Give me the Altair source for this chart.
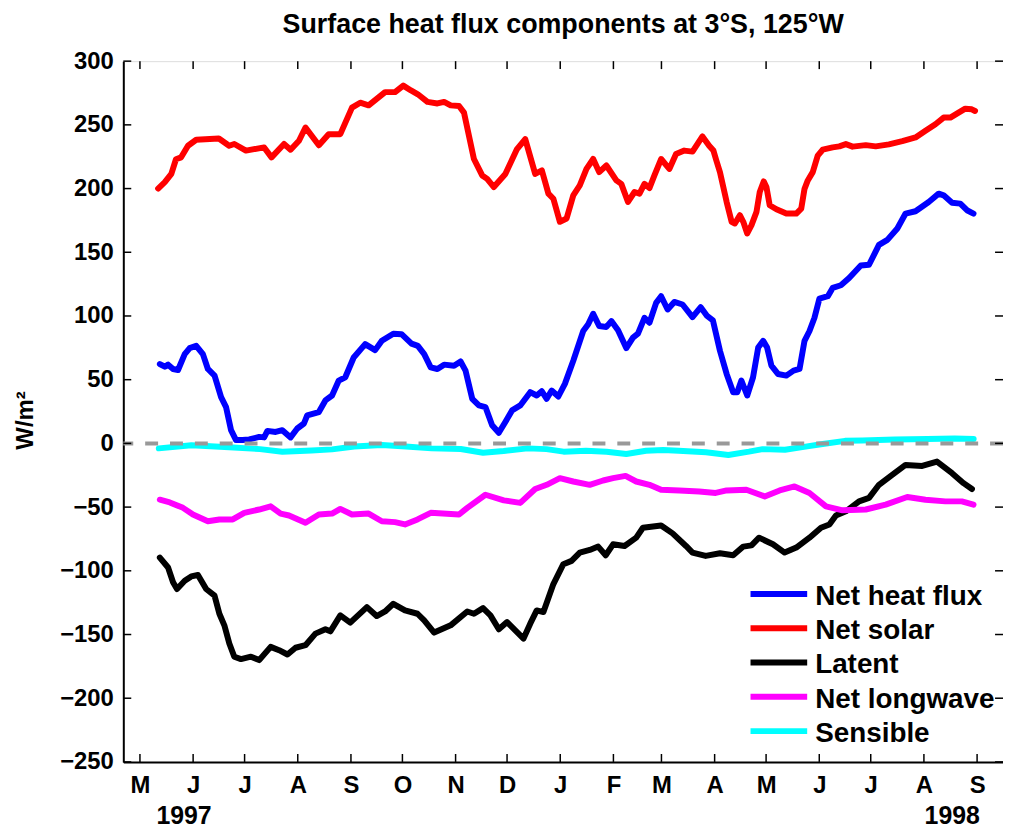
import altair as alt
import pandas as pd

# ---------------- data ----------------
series_names = ["Net heat flux", "Net solar", "Latent", "Net longwave", "Sensible"]
series_colors = ["#0000ff", "#ff0000", "#000000", "#ff00ff", "#00ffff"]
base_date = "1997-05-01"   # day offsets below are counted from this date

net_heat_days = [11.6, 14.5, 16.4, 19.3, 22.2, 26.1, 29, 32.8, 36.7, 39.6, 43.5, 47.3, 50.2, 53.1, 56,
                 59.8, 63.7, 69.5, 72.4, 74.3, 79.1, 83, 87.8, 91.7, 95.6, 97.5, 104.3, 108.1, 112,
                 115.9, 119.7, 124.6, 131.3, 137.1, 141, 147.7, 152.5, 158.3, 162, 165.7, 169.5,
                 173.4, 177.3, 183.1, 186.9, 189.8, 193.7, 197.6, 201.4, 205.3, 209.2, 213, 216.9,
                 221.7, 227.5, 231.3, 234.2, 237.1, 240, 243.9, 247.7, 252.6, 258.4, 261.3, 264.2,
                 267.7, 271.9, 274.8, 278.7, 283.5, 287.4, 290.3, 294.1, 297, 300.9, 303.8, 307.6,
                 311.5, 316.3, 322.1, 326.9, 330.6, 334, 338.1, 342, 345.8, 348.2, 350.6, 354,
                 357.4, 360.4, 363.3, 365.6, 368.1, 371.9, 376.8, 381, 384.5, 387.4, 390.3, 393.2,
                 396.1, 401, 403.8, 408.6, 413.4, 420.2, 425, 430.8, 435.7, 441.5, 446.3, 452.1,
                 459.8, 465.6, 468.5, 473.4, 478.2, 482.1, 485.9]
net_heat_vals = [62.3, 60.2, 61.8, 58.4, 57.6, 70.1, 74.8, 76.6, 70.1, 58.4, 53.2, 36.3, 28.5, 10.4, 2.6,
                 2.6, 3.1, 5.1, 4.7, 9.8, 9.0, 10.4, 4.7, 11.7, 15.6, 22, 24.6, 33.7, 37.6,
                 49.3, 51.9, 67.4, 77.9, 73.2, 80.5, 86.1, 85.7, 78.3, 76.5, 70.1, 59.7,
                 58.4, 61.8, 61, 64.3, 57.1, 35, 29.8, 28.5, 14.3, 8.3, 16.8, 25.9,
                 29.8, 40.2, 37.6, 41, 35, 41.5, 36.8, 46.7, 64.9, 88.2, 93.5, 101.7,
                 92.1, 91.4, 96, 88.8, 74.8, 83, 86.1, 98.6, 94.7, 110.3, 115.5, 105.1,
                 111, 109, 99.1, 106.9, 100, 96.5, 72.7, 54.5, 40.2, 40.2, 49.3, 37.6,
                 51.9, 75.2, 80.5, 75.2, 61, 54.5, 53.2, 57.1, 58.4, 80.5, 88.2, 98.6,
                 113.7, 115.5, 122, 124.1, 129.8, 139.6, 140.2, 155.8, 159.7, 168.7, 180.4, 182.2,
                 189.5, 196, 194.7, 188.9, 188.2, 183, 180.4]

net_solar_days = [10.6, 14.5, 18.3, 21, 24, 28, 32.8, 46, 52, 55, 61.8, 72.4, 76.7, 84, 87.8, 92.7,
                  96.5, 104.3, 110, 116.8, 123.6, 128.4, 133.3, 142.9, 148.7, 153.5, 158, 162,
                  167.6, 173.4, 177.3, 181.1, 186, 188.9, 194.7, 199.5, 202.4, 206.3, 213, 219.8,
                  224.6, 230.4, 234.3, 238.1, 241, 244.8, 248.7, 252.6, 256.4, 260.3, 264.2, 267.7,
                  271.9, 277.7, 280.6, 284.5, 288.3, 291.2, 294.1, 297, 299.9, 303.8, 308.6, 312.5,
                  317.3, 322.1, 327.9, 331.8, 334.3, 336, 338.1, 342, 344.9, 346.8, 349.7, 351.7,
                  354, 356.5, 359.4, 361.3, 363.6, 365.2, 367.1, 371, 376.8, 382.6, 385.5, 387.4,
                  389.3, 392.2, 395.1, 398, 403.8, 407.7, 411.5, 415.4, 423.1, 428.9, 436.6, 444.4,
                  452.1, 457.9, 463.7, 468.5, 472.4, 477.2, 481.1, 484.9, 486.8]
net_solar_vals = [200, 205, 211.5, 223, 224.5, 233.6, 238.3, 239.3, 233.6, 235, 229.8, 232.3, 224.5, 235,
                  230.5, 237.5, 247.9, 234, 242.7, 242.7, 263.5, 267.4, 265.3, 275.7, 275.7, 280.8,
                  277, 274, 268, 266.8, 268, 265.3, 264.8, 259.6, 223.2, 210.3, 207.6, 201.2, 211.5,
                  231, 238.8, 211.5, 214.2, 196, 192, 173.9, 176.5, 194.7, 202.5, 215.4, 223.2, 212.9,
                  218.1, 206.4, 203.7, 189.5, 197.3, 196, 203.7, 200.4, 210.3, 223.2, 215.4, 227.1,
                  229.8, 229, 240.9, 233.6, 229.8, 222, 212.9, 189.5, 173.9, 172.6, 179.1, 173.9,
                  164.8, 171.3, 181.7, 197.3, 205.6, 201.2, 186.9, 183.8, 180.4, 180.4, 184.3, 199.8,
                  206.4, 212.9, 225.9, 230.5, 232.3, 233.1, 234.9, 232.9, 234.1, 233.1, 234.7, 237.2,
                  240.1, 245.3, 250.5, 255.7, 255.7, 259.6, 262.7, 262.2, 260.9]

latent_days = [11.6, 16.4, 19.3, 21.6, 26.1, 29.9, 33.8, 38.6, 43.5, 46.3, 49.2, 52.1, 55, 58.9, 64.7,
               69.5, 76.2, 81.1, 86, 90.7, 96.5, 102.3, 108.1, 111, 116.8, 122.6, 132.3, 138, 142.9,
               147.7, 154.5, 161.8, 165.7, 171.5, 181.1, 190.8, 194.7, 200, 204.3, 209.2, 214,
               223.6, 227.5, 231.3, 235.2, 241, 246.8, 251.6, 256.4, 262.2, 267.1, 271.5, 275.8,
               282.5, 289.3, 293.2, 303.8, 310.5, 318.3, 322.1, 329.8, 338.1, 345.8, 351.7, 356.5,
               360.9, 369, 375.8, 382.6, 390.3, 397, 401.9, 405.7, 411.5, 419.2, 425, 430.8, 438.5,
               446.3, 456, 464.6, 473.4, 480.1, 485]
latent_vals = [-89.6, -97.4, -109, -114.3, -107.8, -104.4, -103.3, -114.3, -119.5, -133.7, -142.8, -157.1,
               -167.4, -169.3, -167.4, -170.1, -159.7, -162.3, -165.7, -160.4, -158.4, -149.3, -145.9,
               -147.5, -135, -140.7, -128.5, -135.5, -131.9, -125.9, -131.1, -133.7, -138.9, -148.5,
               -142.8, -131.9, -133.7, -129.3, -135, -145.9, -140.2, -153.2, -141.5, -131.1, -132.4,
               -110.4, -94.8, -92.2, -85.7, -83.6, -81, -87.8, -79.2, -80.5, -74, -66.2, -64.4, -70.6,
               -80.5, -85.7, -88.3, -86.2, -87.8, -81, -80, -74, -79.2, -85.7, -81.8, -74, -66.2,
               -63.6, -56.6, -53.3, -45.5, -42.8, -32.5, -24.7, -16.9, -17.7, -14.3, -23.4, -31.2,
               -35.8]

longwave_days = [11.6, 17.4, 25.1, 30.9, 39.6, 46.3, 54.1, 60.8, 69.5, 76.2, 82, 86.9, 96.5, 104.3, 112,
                 116.8, 123.6, 133.3, 141, 148.7, 154.5, 161.8, 169.5, 186, 190.8, 201.4, 212.1,
                 221.7, 230.4, 237.1, 244.8, 252.6, 262.2, 270, 275.8, 283.1, 289.3, 297, 303.8,
                 314.4, 326, 335.6, 342, 353.5, 364.2, 372.9, 381.6, 390.3, 399.9, 409.6, 423.1,
                 434.7, 447.3, 457.9, 469.5, 479.1, 485.9]
longwave_vals = [-44.2, -46.3, -50.6, -55.8, -61.1, -59.7, -59.7, -54.5, -51.9, -49.4, -55.1, -56.6, -62.3,
                 -55.8, -55.1, -51.4, -55.8, -55.1, -61.1, -61.8, -63.6, -59.7, -54.5, -55.8, -50.6,
                 -40.3, -44.7, -46.7, -35.8, -32.5, -27.3, -29.9, -32.5, -29.1, -27.3, -25.5, -29.9,
                 -32.5, -36.4, -36.9, -37.7, -38.9, -36.9, -36.4, -41.6, -36.9, -33.8, -38.9, -49.4,
                 -52.5, -51.9, -48.1, -42.1, -44.2, -45.5, -45.5, -48.1]

sensible_days = [11, 30, 52, 70, 83, 100, 112, 125, 141, 155, 170, 187, 200, 212, 226, 237, 247, 260,
                 272, 283.5, 295, 305, 314, 330, 343, 355, 363, 376, 388, 398, 411, 421, 440, 459,
                 475, 486]
sensible_vals = [-3.9, -1.5, -3.0, -4.5, -6.5, -5.5, -4.7, -2.5, -1.3, -2.5, -3.9, -4.4, -7.3, -6, -3.9,
                 -4.5, -6.5, -5.8, -6.5, -8.3, -5.8, -5.2, -5.8, -7.0, -9.1, -6.5, -4.5, -5.0, -2.5,
                 -0.5, 2.0, 2.2, 3.0, 3.5, 3.8, 3.5]

y_ticks = [-250, -200, -150, -100, -50, 0, 50, 100, 150, 200, 250, 300]
year_labels = ["1997", "1998"]
year_label_days = [25.7, 473.5]

# ---------------- build tables ----------------
DAY_MS = 86400000
base_ms = pd.Timestamp(base_date).value // 10**6


def to_ms(day):
    return base_ms + day * DAY_MS


all_days = [net_heat_days, net_solar_days, latent_days, longwave_days, sensible_days]
all_vals = [net_heat_vals, net_solar_vals, latent_vals, longwave_vals, sensible_vals]
rows = []
for k, (name, dd, vv) in enumerate(zip(series_names, all_days, all_vals)):
    for d, v in zip(dd, vv):
        rows.append({"series": name, "order": k, "t": to_ms(d), "v": v})
df = pd.DataFrame(rows)

month_ticks = [pd.Timestamp(x).value // 10**6
               for x in pd.date_range("1997-05-01", "1998-09-01", freq="MS")]
xtick_df = pd.DataFrame({"t": month_ticks})
ytick_df = pd.DataFrame({"v": y_ticks})
zero_df = pd.DataFrame({"v": [0]})
year_df = pd.DataFrame({"t": [to_ms(d) for d in year_label_days], "label": year_labels})
legend_df = pd.DataFrame({"series": series_names})

# ---------------- scales / axes ----------------
W, H = 885, 705
FONT = "Liberation Sans"
xscale = alt.Scale(type="utc", domain=[to_ms(-9.7), to_ms(503.1)], nice=False)
yscale = alt.Scale(domain=[-250, 300], nice=False, zero=False)
xaxis = alt.Axis(values=month_ticks, ticks=False, grid=False, title=None,
                 labelExpr="substring(utcFormat(datum.value, '%b'), 0, 1)",
                 labelFont=FONT, labelFontSize=24, labelFontWeight="bold", labelColor="black",
                 labelPadding=12, labelOverlap=False, labelFlush=False, labelBound=False,
                 domainColor="black", domainWidth=2)
yaxis = alt.Axis(values=y_ticks, ticks=False, grid=False, title="W/m²", format="d",
                 titleFont=FONT, titleFontSize=24, titleFontWeight="bold", titleColor="black",
                 titleX=-86, titleY=361,
                 labelFont=FONT, labelFontSize=24, labelFontWeight="bold", labelColor="black",
                 labelPadding=10, labelOverlap=False, labelFlush=False, labelBound=False,
                 domainColor="black", domainWidth=2)


def X(field):
    return alt.X(f"{field}:T", scale=xscale, axis=xaxis)


def Y(field):
    return alt.Y(f"{field}:Q", scale=yscale, axis=yaxis)


color_scale = alt.Scale(domain=series_names, range=series_colors)

lines = alt.Chart(df).mark_line(strokeWidth=6, strokeCap="round", strokeJoin="round").encode(
    x=X("t"), y=Y("v"),
    color=alt.Color("series:N", scale=color_scale, legend=None),
    detail="order:O",
)

zero = alt.Chart(zero_df).mark_rule(color="#999999", strokeWidth=4, strokeDash=[13, 12]).encode(y=Y("v"))

tick_kw = dict(color="black", strokeWidth=1.5)
xt_bottom = alt.Chart(xtick_df).mark_rule(**tick_kw).encode(x=X("t"), y=alt.value(H), y2=alt.value(H - 8))
xt_top = alt.Chart(xtick_df).mark_rule(**tick_kw).encode(x=X("t"), y=alt.value(0), y2=alt.value(8))
yt_left = alt.Chart(ytick_df).mark_rule(**tick_kw).encode(y=Y("v"), x=alt.value(0), x2=alt.value(8))
yt_right = alt.Chart(ytick_df).mark_rule(**tick_kw).encode(y=Y("v"), x=alt.value(W - 8), x2=alt.value(W))

years = alt.Chart(year_df).mark_text(font=FONT, fontSize=25, fontWeight="bold", color="black",
                                     align="center", baseline="middle").encode(
    x=X("t"), y=alt.value(H + 54), text="label:N")

inner = alt.layer(lines, zero, xt_bottom, xt_top, yt_left, yt_right, years)

# legend entries: evenly spaced rows in the lower right of the plot
leg_y = alt.Y("series:N", scale=alt.Scale(type="point", domain=series_names, range=[536, 674],
                                          padding=0), axis=None)
leg_lines = alt.Chart(legend_df).mark_rule(strokeWidth=6).encode(
    y=leg_y, x=alt.value(631), x2=alt.value(688),
    color=alt.Color("series:N", scale=color_scale, legend=None))
leg_text = alt.Chart(legend_df).mark_text(font=FONT, fontSize=28, fontWeight="bold", color="black",
                                          align="left", baseline="middle", dy=3).encode(
    y=leg_y, x=alt.value(696), text="series:N")

chart = alt.layer(inner, leg_lines, leg_text).resolve_scale(y="independent").properties(
    width=W, height=H,
    title=alt.TitleParams(text="Surface heat flux components at 3°S, 125°W", font=FONT, fontSize=27,
                          fontWeight="bold", color="black", anchor="middle", offset=10),
    padding={"left": 116, "top": 51, "right": 0, "bottom": 64},
    autosize=alt.AutoSizeParams(type="none"),
).configure_view(stroke="black", strokeWidth=2).configure(background="white")

chart.save("out.html", embed_options={"renderer": "svg", "actions": False})
